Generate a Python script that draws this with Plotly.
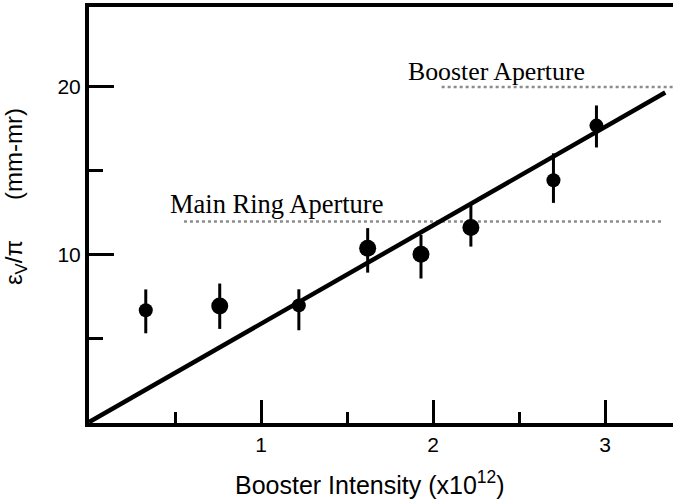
import plotly.graph_objects as go

# ---- data ----
intensity = [0.33, 0.76, 1.22, 1.62, 1.93, 2.22, 2.70, 2.95]
emittance = [6.71, 6.96, 7.00, 10.40, 10.04, 11.63, 14.45, 17.70]
err_hi = [7.95, 8.30, 7.96, 11.60, 11.20, 13.00, 16.05, 18.90]
err_lo = [5.34, 5.60, 5.52, 8.95, 8.60, 10.50, 13.10, 16.40]

fit_x = [0.0, 3.35]
fit_y = [0.05, 19.67]

main_ring_x = [0.552, 3.337]
main_ring_y = [12.0, 12.0]
booster_x = [2.05, 3.40]
booster_y = [20.0, 20.0]

x_ticks = [1, 2, 3]
x_minor = [0.5, 1.5, 2.5]
y_ticks = [10, 20]
y_minor = [5, 15]

# ---- styles ----
marker_sizes = [14, 17, 14, 17, 17, 17, 14, 14]

plus = [h - v for h, v in zip(err_hi, emittance)]
minus = [v - l for v, l in zip(emittance, err_lo)]

fig = go.Figure()

fig.add_trace(go.Scatter(x=main_ring_x, y=main_ring_y, mode="lines",
                         line=dict(color="#8c8c8c", width=2.5, dash="dot"),
                         hoverinfo="skip", showlegend=False))
fig.add_trace(go.Scatter(x=booster_x, y=booster_y, mode="lines",
                         line=dict(color="#8c8c8c", width=2.5, dash="dot"),
                         hoverinfo="skip", showlegend=False))
fig.add_trace(go.Scatter(x=fit_x, y=fit_y, mode="lines",
                         line=dict(color="black", width=4.5),
                         showlegend=False))
fig.add_trace(go.Scatter(x=intensity, y=emittance, mode="markers",
                         marker=dict(color="black", size=marker_sizes, opacity=1,
                                     line=dict(width=0)),
                         error_y=dict(type="data", symmetric=False, array=plus,
                                      arrayminus=minus, thickness=3, width=0,
                                      color="black"),
                         showlegend=False))

axis_font = dict(family="Liberation Sans, Arial, sans-serif", size=21, color="black")

fig.update_xaxes(range=[0, 3.395], showline=True, linewidth=4, linecolor="black",
                 mirror=True, showgrid=False, zeroline=False,
                 tickmode="array", tickvals=x_ticks, ticktext=[str(v) for v in x_ticks],
                 ticks="inside", ticklen=23, tickwidth=3, tickcolor="black",
                 tickfont=axis_font,
                 minor=dict(tickmode="array", tickvals=x_minor, ticks="inside",
                            ticklen=11, tickwidth=3, tickcolor="black", showgrid=False))
fig.update_yaxes(range=[0, 24.76], showline=True, linewidth=4, linecolor="black",
                 showgrid=False, zeroline=False,
                 tickmode="array", tickvals=y_ticks, ticktext=[str(v) for v in y_ticks],
                 ticks="inside", ticklen=25, tickwidth=3, tickcolor="black",
                 tickfont=axis_font,
                 minor=dict(tickmode="array", tickvals=y_minor, ticks="inside",
                            ticklen=14, tickwidth=3, tickcolor="black", showgrid=False))

fig.add_annotation(x=0.459, y=12.0, xref="x", yref="y", text="Main Ring Aperture",
                   showarrow=False, xanchor="left", yanchor="bottom", yshift=0,
                   font=dict(family="Liberation Serif, Times New Roman, serif", size=26.5,
                             color="black"))
fig.add_annotation(x=1.843, y=20.0, xref="x", yref="y", text="Booster Aperture",
                   showarrow=False, xanchor="left", yanchor="bottom", yshift=-1,
                   font=dict(family="Liberation Serif, Times New Roman, serif", size=25.8,
                             color="black"))

fig.add_annotation(x=0.481, y=-0.144, xref="paper", yref="paper",
                   text="Booster Intensity (x10<sup>12</sup>)", showarrow=False,
                   xanchor="center", yanchor="middle",
                   font=dict(family="Liberation Sans, Arial, sans-serif", size=25, color="black"))
fig.add_annotation(x=-0.1267, y=0.543, xref="paper", yref="paper",
                   text="ε<sub>V</sub>/π" + "\u00a0" * 6 + "(mm-mr)", showarrow=False,
                   textangle=-90, xanchor="center", yanchor="middle",
                   font=dict(family="Liberation Sans, Arial, sans-serif", size=24, color="black"))

fig.update_layout(width=673, height=502, margin=dict(l=89, r=0, t=7, b=79),
                  paper_bgcolor="white", plot_bgcolor="white", showlegend=False)

fig.write_html("out.html", config={"displayModeBar": False},
               post_script="document.body.style.margin='0';document.body.style.overflow='hidden';")
